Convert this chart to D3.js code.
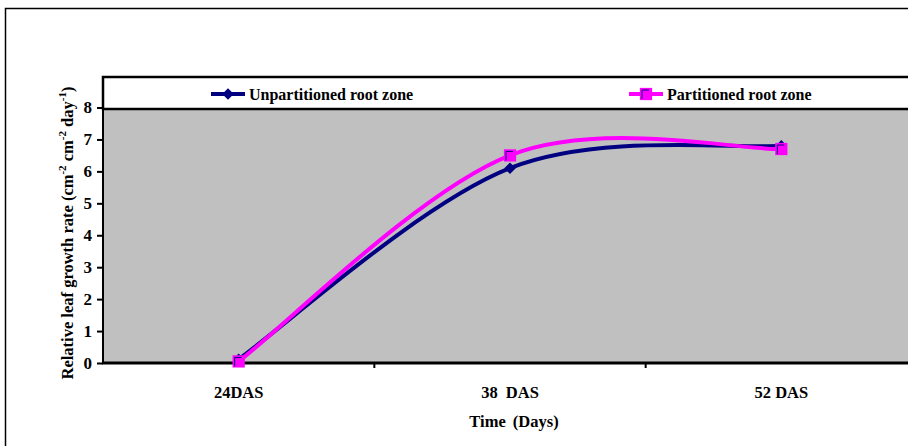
<!DOCTYPE html>
<html>
<head>
<meta charset="utf-8">
<script src="https://cdn.jsdelivr.net/npm/d3@7"></script>
<style>
  html, body { margin: 0; padding: 0; background: #fff; overflow: hidden; }
  svg { display: block; font-family: "Liberation Serif", "Times New Roman", serif; font-weight: bold; }
</style>
</head>
<body>
<svg id="chart" width="908" height="446"></svg>
<script>
// Sampling dates (days after sowing)
const categories = ["24DAS", "38 DAS", "52 DAS"];
// Relative leaf growth rate, cm-2 cm-2 day-1
const unpartitioned = [0.12, 6.1, 6.8];
const partitioned = [0.05, 6.5, 6.7];
const yTicks = [0, 1, 2, 3, 4, 5, 6, 7, 8];
const seriesNames = ["Unpartitioned root zone", "Partitioned root zone"];

const svg = d3.select("#chart");

// outer chart frame (continues past the right and bottom edges)
svg.append("rect")
  .attr("x", 5.5).attr("y", 8.5)
  .attr("width", 960).attr("height", 500)
  .attr("fill", "#fff").attr("stroke", "#000").attr("stroke-width", 1.5);

const plot = { left: 103, top: 77, right: 917, bottom: 363 };

const x = d3.scaleBand().domain(categories).range([plot.left, plot.right]);
const y = d3.scaleLinear().domain([0, 8]).range([plot.bottom, 107.5]);
const cx = d => x(d) + x.bandwidth() / 2;

// grey plotting area
svg.append("rect")
  .attr("x", plot.left).attr("y", plot.top)
  .attr("width", plot.right - plot.left).attr("height", plot.bottom - plot.top)
  .attr("fill", "#c0c0c0");

// y axis
const yAxis = d3.axisLeft(y).tickValues(yTicks).tickSize(6).tickPadding(5).tickFormat(d3.format("d"));
const gy = svg.append("g").attr("transform", `translate(${plot.left},0)`).call(yAxis);
gy.select(".domain").remove();
gy.selectAll(".tick line").attr("stroke", "#000").attr("stroke-width", 2);
gy.selectAll(".tick text").attr("font-size", 17).attr("font-weight", "bold")
  .attr("font-family", "Liberation Serif, serif").attr("fill", "#000");
svg.append("line")
  .attr("x1", plot.left).attr("x2", plot.left)
  .attr("y1", plot.top).attr("y2", plot.bottom + 1)
  .attr("stroke", "#000").attr("stroke-width", 2);

// x axis: ticks sit between categories
const gx = svg.append("g").attr("transform", `translate(0,${plot.bottom})`);
gx.append("line")
  .attr("x1", plot.left - 1).attr("x2", 960)
  .attr("stroke", "#000").attr("stroke-width", 3);
gx.selectAll("line.sep").data(categories.slice(1)).join("line")
  .attr("class", "sep")
  .attr("x1", d => x(d)).attr("x2", d => x(d))
  .attr("y1", 0).attr("y2", 5)
  .attr("stroke", "#000").attr("stroke-width", 2);
gx.selectAll("text").data(categories).join("text")
  .attr("x", d => cx(d)).attr("y", 35)
  .attr("text-anchor", "middle").attr("font-size", 16.5)
  .attr("word-spacing", (d, i) => i === 1 ? 4 : 0)
  .text(d => d);

// axis titles
svg.append("text")
  .attr("x", 514).attr("y", 427)
  .attr("text-anchor", "middle").attr("font-size", 16.5)
  .attr("word-spacing", 3)
  .text("Time (Days)");

const yt = svg.append("text")
  .attr("transform", `translate(73,233) rotate(-90)`)
  .attr("text-anchor", "middle").attr("font-size", 16.5);
yt.append("tspan").text("Relative leaf growth rate (cm");
yt.append("tspan").attr("dy", -7).attr("font-size", 11).text("-2");
yt.append("tspan").attr("dy", 7).text(" cm");
yt.append("tspan").attr("dy", -7).attr("font-size", 11).text("-2");
yt.append("tspan").attr("dy", 7).text(" day");
yt.append("tspan").attr("dy", -7).attr("font-size", 11).text("-1");
yt.append("tspan").attr("dy", 7).text(")");

// Smoothed line: cubic Béziers whose handles are 1/6 of the neighbour chord,
// with end handles pointing along the first/last segment.
function smoothCurve(context) {
  let pts = [];
  return {
    areaStart() {}, areaEnd() {},
    lineStart() { pts = []; },
    point(px, py) { pts.push([+px, +py]); },
    lineEnd() {
      const n = pts.length;
      if (!n) return;
      context.moveTo(pts[0][0], pts[0][1]);
      for (let i = 0; i < n - 1; i++) {
        const p0 = pts[Math.max(i - 1, 0)], p1 = pts[i], p2 = pts[i + 1], p3 = pts[Math.min(i + 2, n - 1)];
        const a = i === 0 ? [p1[0] + (p2[0] - p1[0]) / 6, p1[1] + (p2[1] - p1[1]) / 6]
                          : [p1[0] + (p2[0] - p0[0]) / 6, p1[1] + (p2[1] - p0[1]) / 6];
        const b = i === n - 2 ? [p2[0] - (p2[0] - p1[0]) / 6, p2[1] - (p2[1] - p1[1]) / 6]
                              : [p2[0] - (p3[0] - p1[0]) / 6, p2[1] - (p3[1] - p1[1]) / 6];
        context.bezierCurveTo(a[0], a[1], b[0], b[1], p2[0], p2[1]);
      }
    }
  };
}

const line = d3.line()
  .x((d, i) => cx(categories[i]))
  .y(d => y(d))
  .curve(smoothCurve);

const navy = "#000080", magenta = "#ff00ff";

svg.append("path").datum(unpartitioned)
  .attr("d", line).attr("fill", "none")
  .attr("stroke", navy).attr("stroke-width", 4).attr("stroke-linejoin", "round");
svg.append("path").datum(partitioned)
  .attr("d", line).attr("fill", "none")
  .attr("stroke", magenta).attr("stroke-width", 4).attr("stroke-linejoin", "round");

const diamond = d3.symbol().type(d3.symbolDiamond2).size(85);
const square = d3.symbol().type(d3.symbolSquare).size(150);

function drawDiamond(g, px, py) {
  g.append("path").attr("d", diamond()).attr("transform", `translate(${px},${py})`)
    .attr("fill", navy);
}
function drawSquare(g, px, py) {
  g.append("path").attr("d", square()).attr("transform", `translate(${px},${py})`)
    .attr("fill", magenta);
  g.append("path").attr("d", `M${px - 4},${py + 5}V${py - 4}H${px + 3}`)
    .attr("fill", "none").attr("stroke", navy).attr("stroke-width", 1);
}

unpartitioned.forEach((v, i) => drawDiamond(svg, cx(categories[i]), y(v)));
partitioned.forEach((v, i) => drawSquare(svg, cx(categories[i]), y(v)));

// legend band across the top of the plot
svg.append("rect")
  .attr("x", plot.left).attr("y", plot.top)
  .attr("width", 900).attr("height", 32)
  .attr("fill", "#fff").attr("stroke", "#000").attr("stroke-width", 2.5);

const leg = [
  { name: seriesNames[0], color: navy, x0: 211, kind: "diamond" },
  { name: seriesNames[1], color: magenta, x0: 629, kind: "square" }
];
leg.forEach(l => {
  const ly = 94;
  svg.append("line").attr("x1", l.x0).attr("x2", l.x0 + 34)
    .attr("y1", ly).attr("y2", ly)
    .attr("stroke", l.color).attr("stroke-width", 4);
  if (l.kind === "diamond") drawDiamond(svg, l.x0 + 17, ly);
  else drawSquare(svg, l.x0 + 17, ly);
  svg.append("text").attr("x", l.x0 + 38).attr("y", ly + 6)
    .attr("font-size", 16).text(l.name);
});
</script>
</body>
</html>
